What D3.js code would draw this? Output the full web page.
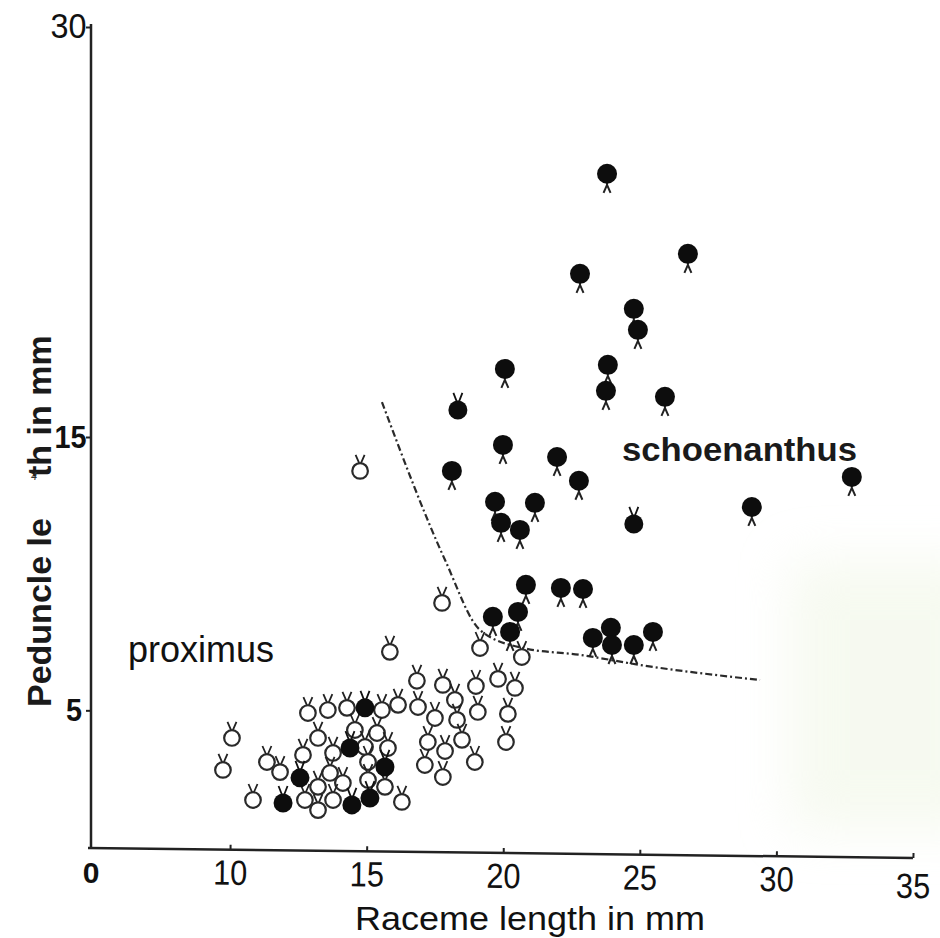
<!DOCTYPE html>
<html>
<head>
<meta charset="utf-8">
<script src="https://cdn.jsdelivr.net/npm/d3@7"></script>
<style>
  html, body { margin: 0; padding: 0; background: #ffffff; }
  svg { display: block; font-family: "Liberation Sans", Arial, sans-serif; }
</style>
</head>
<body>
<svg id="chart" width="940" height="938"></svg>
<script>
// ---- data (mm) ----
// proximus: open circles
const openX = [10.07, 9.74, 10.84, 11.35, 11.83, 12.85, 13.58, 14.28, 15.56, 16.15,
  13.22, 12.67, 13.77, 14.57, 15.38, 14.94, 15.78, 13.66, 13.22, 14.13,
  15.05, 15.05, 15.67, 12.74, 13.22, 13.77, 16.29, 15.85, 16.84, 16.88,
  17.79, 18.23, 17.50, 18.31, 17.24, 17.87, 17.13, 17.79, 18.49, 18.96,
  19.00, 19.07, 19.81, 20.43, 20.17, 20.10, 19.15, 20.68, 17.76, 14.76];
const openY = [3.99, 2.82, 1.72, 3.11, 2.74, 4.90, 5.01, 5.09, 5.01, 5.20,
  3.99, 3.37, 3.44, 4.28, 4.17, 3.66, 3.62, 2.71, 2.20, 2.34,
  3.11, 2.45, 2.20, 1.72, 1.35, 1.72, 1.65, 7.14, 6.08, 5.12,
  5.93, 5.38, 4.72, 4.65, 3.84, 3.51, 3.00, 2.56, 3.92, 3.11,
  5.89, 4.94, 6.15, 5.82, 4.87, 3.84, 7.28, 6.95, 8.93, 13.76];

// filled circles whose mark sits on top
const filledTopX = [14.94, 14.39, 12.56, 15.67, 11.94, 14.46, 15.12, 18.34, 24.78];
const filledTopY = [5.09, 3.62, 2.53, 2.93, 1.61, 1.54, 1.79, 15.99, 11.82];

// schoenanthus: filled circles with mark below
const filledX = [23.80, 22.81, 26.76, 24.78, 24.93, 23.83, 23.76, 25.92, 20.06, 19.99,
  18.12, 21.97, 22.77, 19.70, 21.16, 19.92, 20.61, 29.10, 32.76, 20.83,
  22.11, 22.92, 19.62, 20.54, 20.25, 23.28, 23.94, 23.98, 24.78, 25.48];
const filledY = [24.63, 20.97, 21.70, 19.69, 18.92, 17.64, 16.69, 16.47, 17.49, 14.71,
  13.76, 14.27, 13.40, 12.63, 12.59, 11.86, 11.60, 12.44, 13.54, 9.59,
  9.48, 9.44, 8.42, 8.60, 7.87, 7.65, 8.02, 7.39, 7.39, 7.87];

// dividing line
const boundaryX = [15.56, 17.87, 19.15, 20.72, 22.81, 25.0, 29.4];
const boundaryY = [16.28, 10.50, 7.94, 7.28, 7.03, 6.66, 6.11];

const xTicks = [10, 15, 20, 25, 30, 35];
const yTicks = [5, 15, 30];

// ---- drawing ----
const svg = d3.select("#chart");
const x = d3.scaleLinear().domain([4.8, 35]).range([88, 913]);
const y = d3.scaleLinear().domain([0, 30]).range([847, 27]);

// faint page bleed tint at lower right (soft edges)
const defs = svg.append("defs");
defs.append("filter").attr("id", "soft").attr("x", "-30%").attr("y", "-30%")
  .attr("width", "160%").attr("height", "160%")
  .append("feGaussianBlur").attr("stdDeviation", 25);
svg.append("rect").attr("x", 790).attr("y", 560).attr("width", 200).attr("height", 270)
  .attr("fill", "#eef5e2").attr("opacity", 0.5).attr("filter", "url(#soft)");

// y axis
const yAxis = svg.append("g").attr("transform", "translate(91,0)")
  .call(d3.axisLeft(y).tickValues(yTicks).tickSize(5).tickSizeOuter(0).tickPadding(6));
yAxis.select(".domain").attr("stroke", "#222").attr("stroke-width", 2.5)
  .attr("d", `M0,${y(30) - 3}V${y(0) + 1}`);
yAxis.selectAll(".tick line").attr("stroke", "#222").attr("stroke-width", 2);
yAxis.selectAll(".tick text")
  .attr("fill", "#111")
  .attr("font-family", "Liberation Sans, Arial, sans-serif")
  .attr("font-size", d => d === 30 ? 36 : 32)
  .attr("font-weight", d => d === 30 ? "normal" : "bold")
  .attr("dy", d => d === 30 ? "0.3em" : "0.32em")
  .attr("x", d => d === 5 ? -10 : -5)
  .attr("transform", "scale(0.9,1)");

// x axis (scan is slightly tilted)
const xAxis = svg.append("g").attr("transform", "translate(0,848) rotate(0.69,88,0)")
  .call(d3.axisBottom(x).tickValues(xTicks).tickSize(-5).tickSizeOuter(0));
xAxis.select(".domain").attr("stroke", "#222").attr("stroke-width", 2.5)
  .attr("d", `M${x.range()[0]},0H${x.range()[1]}`);
xAxis.selectAll(".tick line").attr("stroke", "#222").attr("stroke-width", 2);
xAxis.selectAll(".tick text")
  .attr("fill", "#111")
  .attr("font-family", "Liberation Sans, Arial, sans-serif")
  .attr("font-size", 35)
  .attr("dy", null)
  .attr("y", d => d === 35 ? 40 : 35)
  .attr("transform", "scale(0.88,1)");

// origin label
svg.append("text").attr("x", x.range()[0] + 3).attr("y", 883)
  .attr("text-anchor", "middle").attr("font-size", 30).attr("font-weight", "bold")
  .attr("fill", "#111").text("0");

// axis titles
svg.append("text").attr("x", 530).attr("y", 930).attr("text-anchor", "middle")
  .attr("font-size", 34).attr("fill", "#111")
  .attr("textLength", 350).attr("lengthAdjust", "spacingAndGlyphs")
  .text("Raceme  length  in  mm");

svg.append("text").attr("transform", "translate(51,707) rotate(-90)")
  .attr("font-size", 34).attr("font-weight", "bold").attr("fill", "#1a1a1a")
  .text("Peduncle le");
svg.append("text").attr("transform", "translate(51,477) rotate(-90)")
  .attr("font-size", 34).attr("font-weight", "bold").attr("fill", "#1a1a1a")
  .text("th in mm");
svg.append("text").attr("x", 31).attr("y", 480)
  .attr("font-size", 11).attr("font-style", "italic").attr("fill", "#333").text("4");

// group labels
svg.append("text").attr("x", 128).attr("y", 662).attr("font-size", 36)
  .attr("fill", "#111").text("proximus");
svg.append("text").attr("x", 622).attr("y", 461).attr("font-size", 34)
  .attr("font-weight", "bold").attr("fill", "#1a1a1a")
  .attr("textLength", 235).attr("lengthAdjust", "spacingAndGlyphs")
  .text("schoenanthus");

// boundary line
const line = d3.line().x(d => x(d[0])).y(d => y(d[1])).curve(d3.curveMonotoneX);
svg.append("path").datum(d3.zip(boundaryX, boundaryY))
  .attr("d", line).attr("fill", "none").attr("stroke", "#2a2a2a")
  .attr("stroke-width", 2.2).attr("stroke-dasharray", "7,3,2,3");

// markers
const openPts = d3.zip(openX, openY);
const topPts = d3.zip(filledTopX, filledTopY);
const botPts = d3.zip(filledX, filledY);

const gOpen = svg.append("g").selectAll("g").data(openPts).join("g")
  .attr("transform", d => `translate(${x(d[0])},${y(d[1])})`);
gOpen.append("path").attr("d", "M-1,-8 L-4.5,-16 M1,-8 L4.5,-16")
  .attr("stroke", "#222").attr("stroke-width", 1.8).attr("fill", "none");
gOpen.append("circle").attr("r", 7.8).attr("fill", "#fff")
  .attr("stroke", "#2a2a2a").attr("stroke-width", 2.2);

const gTop = svg.append("g").selectAll("g").data(topPts).join("g")
  .attr("transform", d => `translate(${x(d[0])},${y(d[1])})`);
gTop.append("path").attr("d", "M-1,-8 L-4.5,-17 M1,-8 L4.5,-17")
  .attr("stroke", "#111").attr("stroke-width", 1.8).attr("fill", "none");
gTop.append("circle").attr("r", 9.5).attr("fill", "#0d0d0d");

const gBot = svg.append("g").selectAll("g").data(botPts).join("g")
  .attr("transform", d => `translate(${x(d[0])},${y(d[1])})`);
gBot.append("path").attr("d", "M0,8 L0,12 M0,11 L-3.5,19 M0,11 L3.5,19")
  .attr("stroke", "#222").attr("stroke-width", 2).attr("fill", "none");
gBot.append("circle").attr("r", 10).attr("fill", "#0d0d0d");
</script>
</body>
</html>
